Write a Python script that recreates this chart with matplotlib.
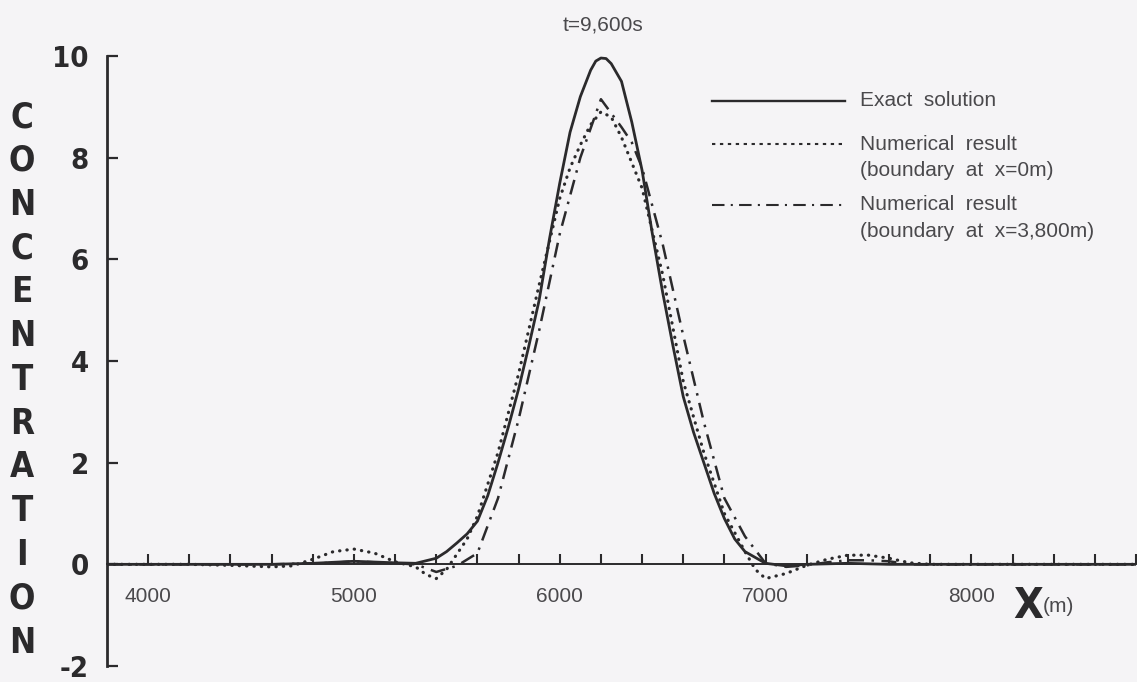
import matplotlib
matplotlib.use('Agg')
import matplotlib.pyplot as plt
from matplotlib.lines import Line2D
from matplotlib import font_manager as fm

W, H = 1137, 682
BG = '#f5f4f6'
INK = '#2b2a2c'
GREY = '#4a494c'
PLAIN = ['Liberation Sans', 'DejaVu Sans']


def narrow_font():
    # the scanned figure uses a condensed bold face for the axis numbers
    best = None
    for f in fm.fontManager.ttflist:
        n = (f.name + ' ' + str(f.stretch) + ' ' + f.fname).lower()
        if 'narrow' in n or 'condensed' in n:
            score = ('bold' in f.fname.lower() or str(f.weight) in ('700', 'bold')) * 2
            score += 'italic' not in f.fname.lower() and 'oblique' not in f.fname.lower()
            if best is None or score > best[0]:
                best = (score, f.fname)
    if best:
        return fm.FontProperties(fname=best[1])
    return fm.FontProperties(family='DejaVu Sans', weight='bold')


NARROW = narrow_font()

# values (x in m, concentration)
x_exact = [3800, 4200, 4600, 4800, 5000, 5200, 5300, 5400, 5450, 5500, 5550, 5600,
           5650, 5700, 5750, 5800, 5850, 5900, 5950, 6000, 6050, 6100, 6150, 6175,
           6200, 6225, 6250, 6300, 6350, 6400, 6450, 6500, 6550, 6600, 6650, 6700,
           6750, 6800, 6850, 6900, 7000, 7100, 7200, 7400, 7600, 8000, 8800]
c_exact = [0.0, 0.0, 0.0, 0.02, 0.06, 0.03, 0.02, 0.12, 0.25, 0.42, 0.6, 0.85,
           1.35, 2.0, 2.7, 3.45, 4.3, 5.2, 6.4, 7.5, 8.5, 9.2, 9.72, 9.9,
           9.96, 9.95, 9.85, 9.5, 8.7, 7.75, 6.5, 5.35, 4.3, 3.3, 2.6, 2.0,
           1.4, 0.9, 0.5, 0.25, 0.02, -0.03, 0.0, 0.02, 0.0, 0.0, 0.0]

x_num0 = [3800, 4200, 4400, 4600, 4700, 4800, 4900, 5000, 5100, 5200, 5300, 5350,
          5400, 5450, 5500, 5550, 5600, 5700, 5800, 5900, 6000, 6050, 6100, 6150,
          6200, 6250, 6300, 6350, 6400, 6500, 6600, 6700, 6800, 6900, 6950, 7000,
          7100, 7200, 7300, 7400, 7500, 7600, 7700, 7800, 8800]
c_num0 = [0.0, 0.0, -0.02, -0.05, -0.03, 0.1, 0.25, 0.3, 0.22, 0.05, -0.05, -0.2,
          -0.28, -0.1, 0.2, 0.5, 0.95, 2.2, 3.75, 5.5, 7.2, 7.8, 8.25, 8.65,
          8.9, 8.8, 8.4, 7.9, 7.4, 5.7, 3.6, 2.2, 1.0, 0.25, -0.1, -0.28,
          -0.18, -0.02, 0.1, 0.18, 0.18, 0.12, 0.03, 0.0, 0.0]

x_num3800 = [3800, 4600, 4900, 5000, 5100, 5200, 5300, 5400, 5500, 5600, 5700, 5800,
             5900, 6000, 6100, 6200, 6300, 6350, 6400, 6500, 6600, 6700, 6800, 6900,
             7000, 7100, 7200, 7300, 7400, 7500, 7600, 7700, 8000, 8800]
c_num3800 = [0.0, 0.0, 0.03, 0.06, 0.04, 0.02, 0.0, -0.15, -0.03, 0.22, 1.3, 2.85,
             4.6, 6.5, 8.0, 9.15, 8.6, 8.3, 7.8, 6.3, 4.5, 2.8, 1.3, 0.55,
             0.02, -0.05, -0.02, 0.04, 0.08, 0.08, 0.06, 0.0, 0.0, 0.0]

x_ticks = [4000, 5000, 6000, 7000, 8000]
x_tick_labels = ['4000', '5000', '6000', '7000', '8000']
x_minor = [4000, 4200, 4400, 4600, 4800, 5000, 5200, 5400, 5600, 5800, 6000, 6200,
           6400, 6600, 6800, 7000, 7200, 7400, 7600, 7800, 8000, 8200, 8400, 8600, 8800]
y_ticks = [-2, 0, 2, 4, 6, 8, 10]
y_tick_labels = ['-2', '0', '2', '4', '6', '8', '10']

fig = plt.figure(figsize=(W / 100, H / 100), dpi=100, facecolor=BG)
ax = fig.add_axes([107 / W, 16 / H, 1029 / W, 610 / H])
ax.set_facecolor(BG)
ax.set_xlim(3800, 8800)
ax.set_ylim(-2, 10)

dotted = (0, (0.1, 2.2))
dashdot = (0, (6, 3, 1, 3))
ax.plot(x_exact, c_exact, color=INK, lw=2.0, solid_joinstyle='round')
ax.plot(x_num0, c_num0, color=INK, lw=2.3, linestyle=dotted, dash_capstyle='round')
ax.plot(x_num3800, c_num3800, color=INK, lw=1.8, linestyle=dashdot)

for s in ['top', 'right']:
    ax.spines[s].set_visible(False)
ax.spines['bottom'].set_position(('data', 0))
ax.spines['bottom'].set_linewidth(1.4)
ax.spines['bottom'].set_color(INK)
ax.spines['left'].set_linewidth(2.0)
ax.spines['left'].set_color(INK)

ax.set_xticks(x_ticks)
ax.set_xticklabels(x_tick_labels, family=PLAIN)
ax.set_xticks(x_minor, minor=True)
ax.tick_params(axis='x', which='both', direction='in', length=7, width=1.5,
               color=INK)
ax.tick_params(axis='x', which='major', pad=16, labelsize=15, labelcolor=GREY)

ax.set_yticks(y_ticks)
ax.set_yticklabels(y_tick_labels)
for t in ax.get_yticklabels():
    t.set_fontproperties(NARROW)
    t.set_fontsize(21)
    t.set_fontweight('bold')
ax.tick_params(axis='y', direction='in', length=8, width=1.6, color=INK,
               pad=13, labelcolor=INK)

# vertical axis title, one letter per row
for i, ch in enumerate('CONCENTRATION'):
    fig.text(22 / W, 1 - (117 + i * 43.8) / H, ch, ha='center', va='center',
             fontproperties=NARROW, fontsize=25, weight='bold', color=INK)

fig.text(1028 / W, 1 - 606 / H, 'X', ha='center', va='center', fontsize=31,
         fontproperties=NARROW, color=INK)
fig.text(1043 / W, 1 - 607 / H, '(m)', ha='left', va='center', fontsize=15,
         family=PLAIN, color=GREY)

fig.text(603 / W, 1 - 25 / H, 't=9,600s', ha='center', va='center',
         fontsize=15, family=PLAIN, color=GREY)

# legend drawn by hand so the keys sit on the first line of each entry
keys = [(101, '-', 1.7), (144, (0, (1.6, 2.2)), 1.5), (205, dashdot, 1.5)]
for yk, ls, lw in keys:
    fig.add_artist(Line2D([712 / W, 845 / W], [1 - yk / H] * 2, color=INK,
                          lw=lw, linestyle=ls))
labels = [(101, 'Exact  solution'), (144, 'Numerical  result'),
          (171, '(boundary  at  x=0m)'), (205, 'Numerical  result'),
          (232, '(boundary  at  x=3,800m)')]
for yl, txt in labels:
    fig.text(860 / W, 1 - yl / H, txt, ha='left', va='center', fontsize=15,
             family=PLAIN, color=GREY)

fig.savefig('out.png', dpi=100, facecolor=BG)
